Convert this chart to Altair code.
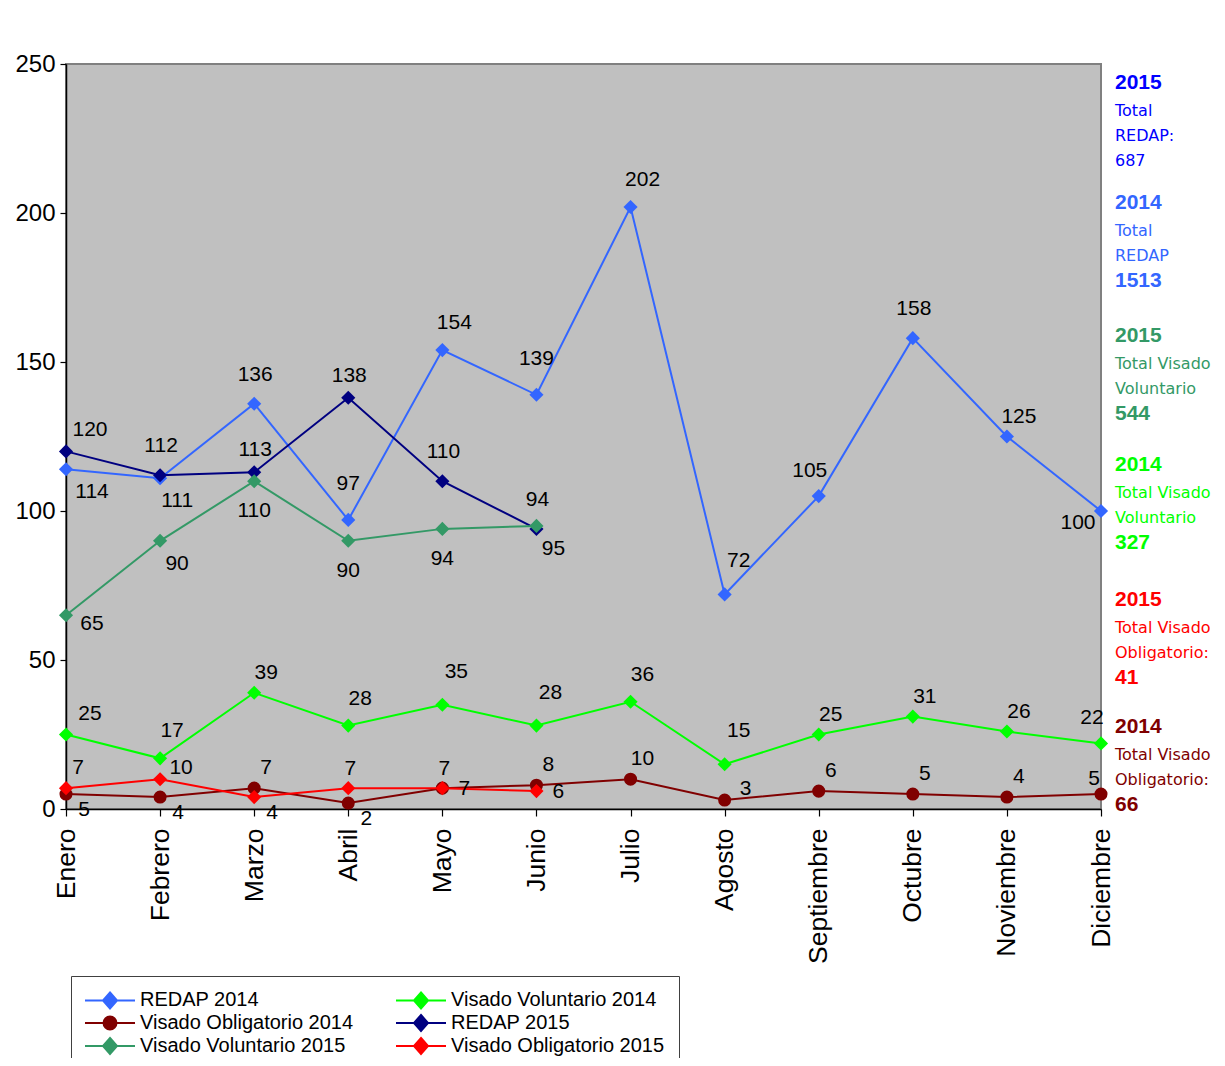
import altair as alt
import pandas as pd

# ---------------- data ----------------
months = ["Enero", "Febrero", "Marzo", "Abril", "Mayo", "Junio", "Julio",
          "Agosto", "Septiembre", "Octubre", "Noviembre", "Diciembre"]

series_names = ["REDAP 2014", "Visado Voluntario 2014", "Visado Obligatorio 2014",
                "REDAP 2015", "Visado Voluntario 2015", "Visado Obligatorio 2015"]

redap_2014 = [114, 111, 136, 97, 154, 139, 202, 72, 105, 158, 125, 100]
vv_2014 = [25, 17, 39, 28, 35, 28, 36, 15, 25, 31, 26, 22]
vo_2014 = [5, 4, 7, 2, 7, 8, 10, 3, 6, 5, 4, 5]
redap_2015 = [120, 112, 113, 138, 110, 94]
vv_2015 = [65, 90, 110, 90, 94, 95]
vo_2015 = [7, 10, 4, 7, 7, 6]

series_values = [redap_2014, vv_2014, vo_2014, redap_2015, vv_2015, vo_2015]

# right-hand annotation blocks
ann_years = ["2015", "2014", "2015", "2014", "2015", "2014"]
ann_line1 = ["Total", "Total", "Total Visado", "Total Visado", "Total Visado", "Total Visado"]
ann_line2 = ["REDAP:", "REDAP", "Voluntario", "Voluntario", "Obligatorio:", "Obligatorio:"]
ann_total = ["687", "1513", "544", "327", "41", "66"]

# ---------------- styles ----------------
series_colors = {
    "REDAP 2014": "#3366FF", "Visado Voluntario 2014": "#00FF00",
    "Visado Obligatorio 2014": "#800000", "REDAP 2015": "#000080",
    "Visado Voluntario 2015": "#339966", "Visado Obligatorio 2015": "#FF0000",
}
# legend fills column by column: this order gives the reference's row layout
legend_order = ["REDAP 2014", "Visado Obligatorio 2014", "Visado Voluntario 2015",
                "Visado Voluntario 2014", "REDAP 2015", "Visado Obligatorio 2015"]
ann_colors = ["#0000FF", "#3366FF", "#339966", "#00FF00", "#FF0000", "#800000"]
ann_total_bold = [False, True, True, True, True, True]
ann_block_top = [19, 139, 272, 401, 536, 663]
ann_line_off = [0, 28, 53, 78]

# label placement codes per point (style only)
OFF = {
    "A": (1, -29), "AA": (0, -36), "AAR": (14, -33), "Am": (1, -22), "a": (2, -19),
    "AR": (12, -27), "ar": (12, -20), "FR": (24, -21), "R": (22, 1), "RB": (26, 9),
    "RA": (21, -11), "BR2": (26, 23), "BR": (17, 23), "br": (18, 16), "B": (0, 30),
    "BL": (-23, 12), "AL": (-9, -25), "al": (-7, -15),
}
places = [
    ["BR2", "BR", "A", "AA", "AR", "AA", "AR", "AAR", "AL", "A", "ar", "BL"],
    ["FR", "AR", "ar", "AR", "AAR", "AAR", "AR", "AAR", "ar", "ar", "ar", "AL"],
    ["br", "br", "ar", "br", "R", "ar", "ar", "RA", "ar", "ar", "ar", "al"],
    ["FR", "A", "Am", "Am", "A", "A"],
    ["RB", "BR", "B", "B", "B", "BR"],
    ["ar", "RA", "br", "a", "a", "R"],
]

FONT = "'Liberation Sans', Arial"

W, H = 1035, 745

rows = []
for s, vals, pl in zip(series_names, series_values, places):
    for i, v in enumerate(vals):
        rows.append(dict(series=s, month=months[i], idx=i, value=v, place=pl[i]))
df = pd.DataFrame(rows)

x_enc = alt.X("month:N", sort=months,
              scale=alt.Scale(type="point", domain=months, padding=0),
              axis=alt.Axis(title=None, labelAngle=270, labelAlign="right",
                            labelBaseline="middle", labelFontSize=26.5, labelFont=FONT,
                            tickSize=7, labelPadding=12, domainWidth=1.5, tickWidth=1.2,
                            labelColor="black", domainColor="black", tickColor="black"))
y_enc = alt.Y("value:Q", scale=alt.Scale(domain=[0, 250], nice=False),
              axis=alt.Axis(title=None, values=[0, 50, 100, 150, 200, 250],
                            labelFontSize=24, labelFont=FONT, tickSize=6,
                            labelPadding=5, grid=False, domainWidth=1.5, tickWidth=1.2,
                            labelColor="black", domainColor="black", tickColor="black"))
color_scale = alt.Scale(domain=legend_order, range=[series_colors[s] for s in legend_order])

base = alt.Chart(df)

lines = base.mark_line(strokeWidth=2).encode(
    x=x_enc, y=y_enc,
    color=alt.Color("series:N", scale=color_scale, legend=None),
    order="idx:Q",
)


def pts(names, shape, size):
    return base.transform_filter(
        alt.FieldOneOfPredicate(field="series", oneOf=names)
    ).mark_point(shape=shape, filled=True, size=size, opacity=1).encode(
        x=x_enc, y=y_enc,
        color=alt.Color("series:N", scale=color_scale, legend=None),
    )


pts1 = pts(series_names[:2], "diamond", 200)
pts2 = pts([series_names[2]], "circle", 170)
pts3 = pts(series_names[3:], "diamond", 200)

label_layers = []
for code, (dx, dy) in OFF.items():
    if (df["place"] == code).any():
        label_layers.append(
            base.transform_filter(alt.datum.place == code).mark_text(
                dx=dx, dy=dy, fontSize=21, font=FONT, color="black",
                align="center", baseline="middle",
            ).encode(x=x_enc, y=y_enc, text="value:Q")
        )

# legend carrier (invisible points that only feed the legend)
diamond_path = "M-2.78,0L2.78,0M0,-0.89L0.78,0L0,0.89L-0.78,0Z"
circle_path = "M-2.78,0L2.78,0M0.72,0A0.72,0.72,0,1,1,-0.72,0A0.72,0.72,0,1,1,0.72,0Z"
shape_map = {s: diamond_path for s in series_names}
shape_map["Visado Obligatorio 2014"] = circle_path

leg = alt.Legend(
    title=None, orient="none", legendX=5, legendY=912, columns=2,
    fillColor="white", strokeColor="#404040", padding=14,
    labelFont=FONT, labelFontSize=20, labelColor="black", labelLimit=500,
    symbolSize=324, symbolStrokeWidth=2, symbolOpacity=1, symbolOffset=15,
    labelOffset=20, columnPadding=37, rowPadding=-5,
)
carrier = base.mark_point(filled=True, opacity=0, size=1).encode(
    x=x_enc, y=y_enc,
    color=alt.Color("series:N", scale=color_scale, legend=leg),
    stroke=alt.Stroke("series:N", scale=alt.Scale(domain=legend_order,
                      range=[series_colors[s] for s in legend_order]), legend=leg),
    shape=alt.Shape("series:N", scale=alt.Scale(domain=legend_order,
                    range=[shape_map[s] for s in legend_order]), legend=leg),
)

# right annotations
ann_rows = []
for i in range(len(ann_years)):
    top = ann_block_top[i]
    texts = [ann_years[i], ann_line1[i], ann_line2[i], ann_total[i]]
    bolds = [True, False, False, ann_total_bold[i]]
    for t, b, off in zip(texts, bolds, ann_line_off):
        ann_rows.append(dict(t=t, py=top + off, col=ann_colors[i], bold=b))
ann_df = pd.DataFrame(ann_rows)
ann_base = alt.Chart(ann_df)
ann_bold = ann_base.transform_filter(alt.datum.bold == True).mark_text(
    align="left", baseline="middle", font=FONT, fontWeight="bold", fontSize=21
).encode(x=alt.value(W + 14), y=alt.Y("py:Q", scale=None),
         fill=alt.Fill("col:N", scale=None), text="t:N")
ann_reg = ann_base.transform_filter(alt.datum.bold == False).mark_text(
    align="left", baseline="middle", font="DejaVu Sans", fontSize=16
).encode(x=alt.value(W + 14), y=alt.Y("py:Q", scale=None),
         fill=alt.Fill("col:N", scale=None), text="t:N")

chart = alt.layer(
    carrier, lines, pts1, pts2, pts3, *label_layers, ann_bold, ann_reg
).properties(
    width=W, height=H,
    padding={"left": 58, "top": 56, "right": 116, "bottom": 249},
    autosize=alt.AutoSizeParams(type="none"),
    background="white",
).configure_view(
    fill="#C0C0C0", stroke="#808080", strokeWidth=2
)

chart.save("out.html", embed_options={"renderer": "svg", "actions": False})
